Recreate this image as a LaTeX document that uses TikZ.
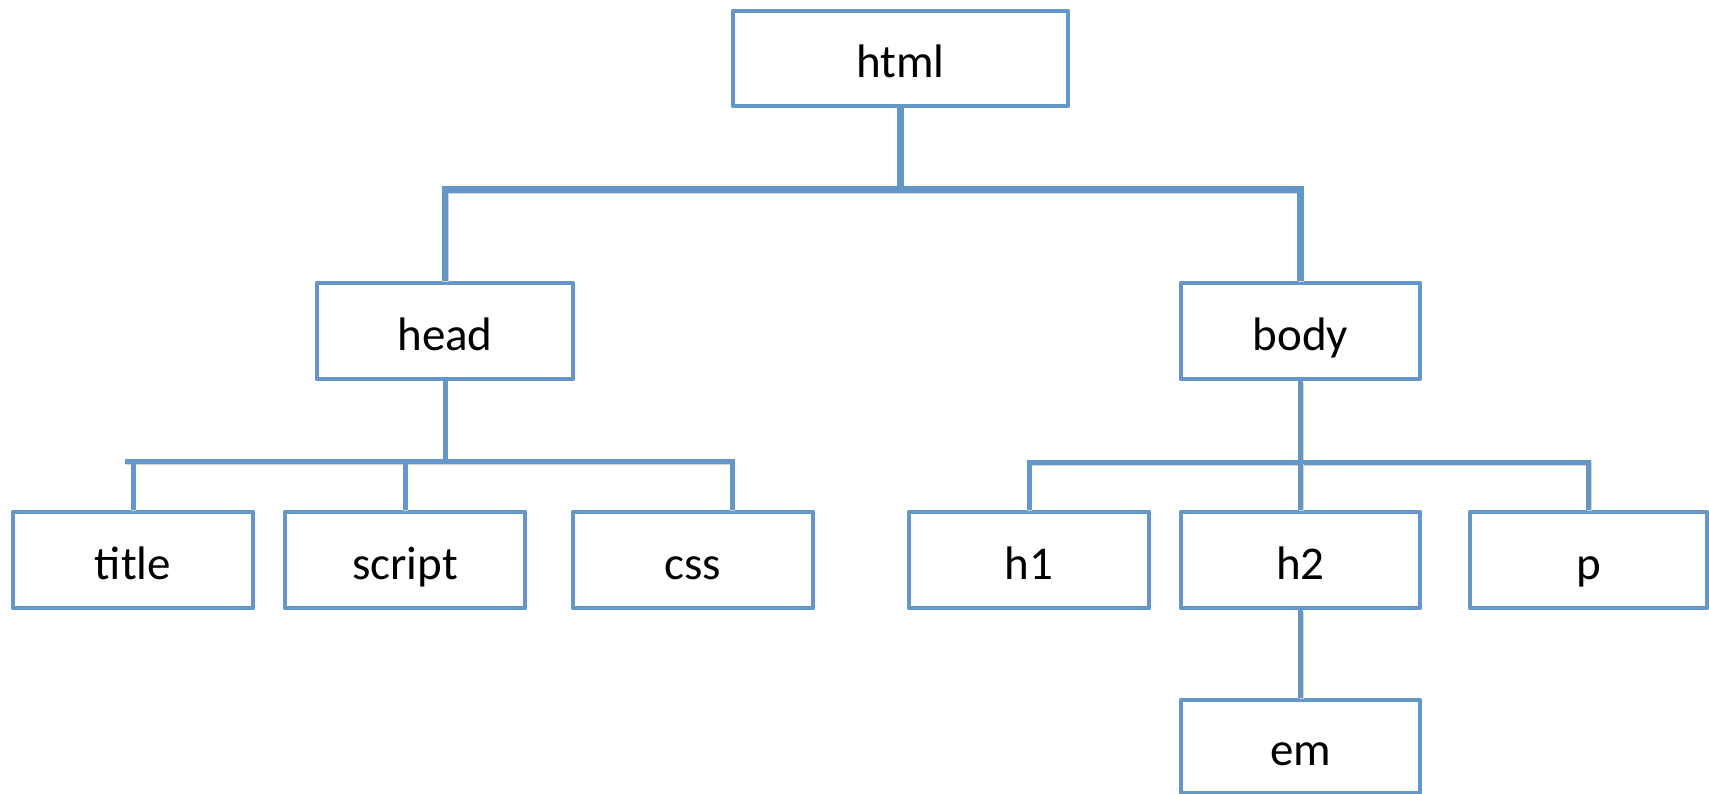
\documentclass[tikz,border=0pt]{standalone}
\usepackage{fontspec}
\setmainfont{Carlito}
\definecolor{linec}{RGB}{99,150,201}
\definecolor{shadowc}{RGB}{212,212,212}
\tikzset{
  treebox/.style={draw=linec, line width=4.8pt, fill=white, rectangle, line join=round,
    minimum width=240pt, minimum height=96pt, inner sep=0pt,
    font=\fontsize{47}{50}\selectfont, text height=38pt, text depth=0pt, anchor=center},
  conn/.style={draw=linec, line width=5pt, line cap=butt,
    preaction={draw=shadowc, line width=5pt, transform canvas={shift={(0.5pt,-1.5pt)}}}},
  mainconn/.style={conn, line width=6.5pt,
    preaction={draw=shadowc, line width=6.5pt, transform canvas={shift={(0.5pt,-1.5pt)}}}},
}
\begin{document}
\begin{tikzpicture}[x=1pt,y=-1pt]
\useasboundingbox (0,0) rectangle (1709,793);
\node[treebox, minimum width=335pt, minimum height=95pt] (html) at (900.5,58.5) {html};
\node[treebox, minimum width=256pt] (head) at (445,331) {head};
\node[treebox, minimum width=239pt] (body) at (1300.5,331) {body};
\node[treebox] (title) at (133,560) {title};
\node[treebox] (script) at (405,560) {script};
\node[treebox] (css) at (693,560) {css};
\node[treebox] (h1) at (1029,560) {h1};
\node[treebox, minimum width=239pt] (h2) at (1300.5,560) {h2};
\node[treebox, minimum width=237pt] (p) at (1588.5,560) {p};
\node[treebox, minimum width=239pt, minimum height=93pt] (em) at (1300.5,746.5) {em};
% top level
\draw[mainconn] (html.south) -- ++(0,81) coordinate (topbar);
\draw[mainconn] (head.north) -- (head.north |- topbar) -- (body.north |- topbar) -- (body.north);
% head children
\coordinate (cssin) at ([xshift=39pt]css.north);
\draw[conn] (head.south) -- ++(0,80) coordinate (hbar);
\draw[conn] ([xshift=-8pt]title.north |- hbar) -- (cssin |- hbar) -- (cssin);
\draw[conn] (title.north |- hbar) -- (title.north);
\draw[conn] (script.north |- hbar) -- (script.north);
% body children
\draw[conn] (body.south) -- ++(0,81) coordinate (bbar);
\draw[conn] (h1.north) -- (h1.north |- bbar) -- (p.north |- bbar) -- (p.north);
\draw[conn] (h2.north |- bbar) -- (h2.north);
\draw[conn] (h2.south) -- (em.north);
\end{tikzpicture}
\end{document}
